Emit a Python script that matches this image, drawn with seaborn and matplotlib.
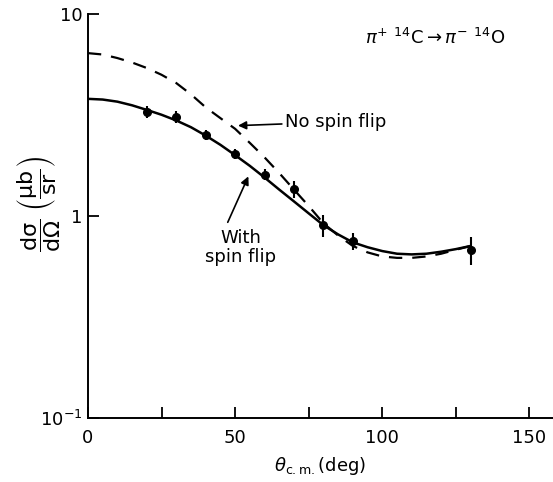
import numpy as np
import pandas as pd
import seaborn as sns
import matplotlib.pyplot as plt
from matplotlib.ticker import FixedLocator, FixedFormatter

# angles (deg, c.m.) for the two model curves
theta_curve = [0, 5, 10, 15, 20, 25, 30, 35, 40, 45, 50, 55, 60, 65, 70, 75,
               80, 85, 90, 95, 100, 105, 110, 115, 120, 125, 130]
with_flip = [3.80, 3.77, 3.68, 3.53, 3.35, 3.17, 2.97, 2.75, 2.50, 2.25, 2.00,
             1.77, 1.55, 1.35, 1.18, 1.03, 0.90, 0.81, 0.74, 0.70, 0.67, 0.65,
             0.645, 0.65, 0.665, 0.685, 0.71]
no_flip = [6.40, 6.30, 6.05, 5.75, 5.40, 5.00, 4.55, 4.00, 3.45, 3.05, 2.70,
           2.30, 1.95, 1.63, 1.35, 1.12, 0.92, 0.80, 0.71, 0.66, 0.63, 0.62,
           0.62, 0.63, 0.65, 0.68, 0.71]

# measured points
theta_data = [20, 30, 40, 50, 60, 70, 80, 90, 130]
xsec_data = [3.27, 3.09, 2.52, 2.03, 1.60, 1.36, 0.90, 0.75, 0.68]
xsec_err = [0.22, 0.20, 0.15, 0.12, 0.10, 0.13, 0.11, 0.07, 0.11]

sns.set_style('ticks')
plt.rcParams['font.family'] = ['DejaVu Sans']
plt.rcParams['mathtext.fontset'] = 'dejavusans'
plt.rcParams['text.color'] = 'black'
plt.rcParams['axes.labelcolor'] = 'black'

fig = plt.figure(figsize=(5.53, 4.82), dpi=100)
ax = fig.add_axes([0.159, 0.133, 0.841, 0.838])

curves = pd.DataFrame({'theta': theta_curve, 'with': with_flip, 'no': no_flip})
sns.lineplot(data=curves, x='theta', y='with', ax=ax, color='black', lw=1.8)
sns.lineplot(data=curves, x='theta', y='no', ax=ax, color='black', lw=1.6,
             dashes=False, linestyle=(0, (6, 4.5)))
ax.errorbar(theta_data, xsec_data, yerr=xsec_err, fmt='o', color='black',
            ms=5.5, elinewidth=1.5, capsize=0)

ax.set_yscale('log')
ax.set_xlim(0, 158)
ax.set_ylim(0.1, 10)

ax.xaxis.set_major_locator(FixedLocator([0, 50, 100, 150]))
ax.xaxis.set_minor_locator(FixedLocator([25, 75, 125]))
ax.yaxis.set_major_locator(FixedLocator([0.1, 1, 10]))
ax.yaxis.set_major_formatter(FixedFormatter(['$10^{-1}$', '1', '10']))
ax.yaxis.set_minor_locator(FixedLocator([]))
ax.tick_params(axis='both', which='both', direction='in', length=8, width=1.3,
               labelsize=13, colors='black')
ax.tick_params(axis='x', pad=8)
ax.tick_params(axis='y', pad=4)

sns.despine(ax=ax)
for s in ['left', 'bottom']:
    ax.spines[s].set_linewidth(1.4)
    ax.spines[s].set_color('black')

ax.set_xlabel(r'$\theta_{\rm c.m.}$(deg)', fontsize=13, labelpad=6)
ax.set_ylabel(r'$\dfrac{\rm d\sigma}{\rm d\Omega}\ \left(\dfrac{\mu \rm b}{\rm sr}\right)$',
              fontsize=16)
ax.yaxis.set_label_coords(-0.055, 0.53)

ax.text(118, 7.6, r'$\pi^{+}\ {}^{14}$C$\rightarrow\pi^{-}\ {}^{14}$O',
        fontsize=13, ha='center', va='center')

ax.annotate('No spin flip', xy=(51, 2.8), xytext=(67, 2.92), fontsize=13,
            va='center', ha='left',
            arrowprops=dict(arrowstyle='-|>', color='black', lw=1.2,
                            mutation_scale=12, shrinkA=0, shrinkB=0))
ax.text(52, 0.70, 'With\nspin flip', fontsize=13, va='center', ha='center',
        linespacing=1.1)
ax.annotate('', xy=(54.5, 1.57), xytext=(47.5, 0.93),
            arrowprops=dict(arrowstyle='-|>', color='black', lw=1.2,
                            mutation_scale=12, shrinkA=0, shrinkB=0))

fig.savefig('out.png', dpi=100)
